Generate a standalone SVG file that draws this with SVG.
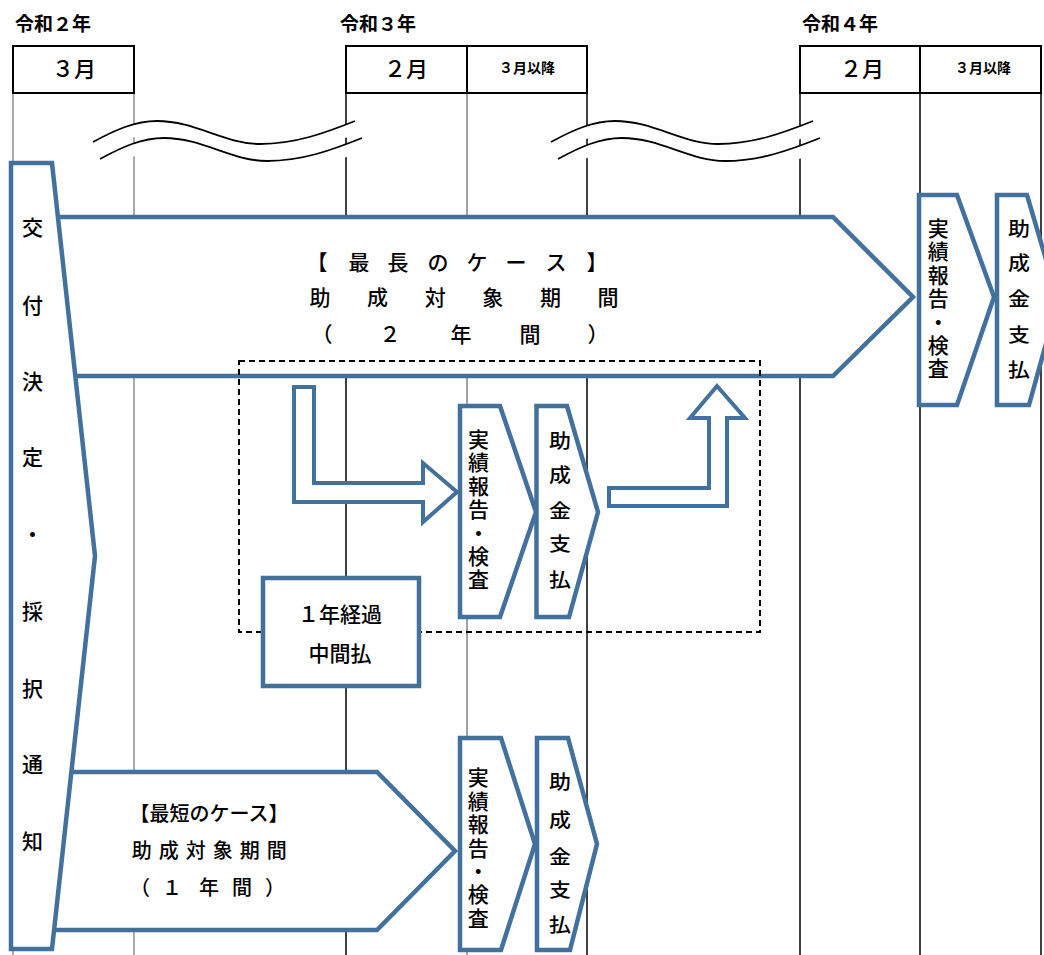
<svg xmlns="http://www.w3.org/2000/svg" xmlns:xlink="http://www.w3.org/1999/xlink" width="1044" height="955" viewBox="0 0 1044 955">
<style>
.vl{stroke:#000;stroke-width:1.5}
.vg{stroke:#8c8c8c;stroke-width:1.5}
.vt{stroke:#444;stroke-width:1}
.hdr{fill:#fff;stroke:#000;stroke-width:2}
.sh{fill:#fff;stroke:#41719C;stroke-width:4.5;stroke-linejoin:miter}
.ar{fill:#fff;stroke:#41719C;stroke-width:4;stroke-linejoin:miter}
.t{font-family:"Noto Sans CJK JP","Noto Sans CJK SC",sans-serif;fill:#000;dominant-baseline:central;text-anchor:middle;font-weight:500}
.sm{font-size:14px;font-weight:bold}
.tv{font-family:"Noto Sans CJK JP","Noto Sans CJK SC",sans-serif;fill:#000;writing-mode:vertical-rl;text-anchor:start;font-weight:500;font-size:21px;letter-spacing:2.4px}
.yr{font-family:"Noto Sans CJK JP","Noto Sans CJK SC",sans-serif;fill:#000;dominant-baseline:central;font-size:19px;font-weight:bold}
.band{fill:#fff;stroke:none}
.wl{fill:none;stroke:#000;stroke-width:1.8}
</style>
<defs>
<g id="wave">
<path class="band" d="M93,142 C115,130 135,121 157,121 C195,121 225,144 260,144 C295,144 325,133 355,121 L355,134 C325,146 295,157 260,157 C225,157 195,134 157,134 C135,134 115,143 93,155 Z"/>
<path class="wl" d="M93,142 C115,130 135,121 157,121 C195,121 225,144 260,144 C295,144 325,133 355,121"/>
<g transform="translate(7,17)">
<path class="band" d="M93,142 C115,130 135,121 157,121 C195,121 225,144 260,144 C295,144 325,133 355,121 L355,134 C325,146 295,157 260,157 C225,157 195,134 157,134 C135,134 115,143 93,155 Z"/>
<path class="wl" d="M93,142 C115,130 135,121 157,121 C195,121 225,144 260,144 C295,144 325,133 355,121"/>
</g>
</g>
</defs>

<g id="grid">
<line class="vg" x1="13" y1="93" x2="13" y2="955"/>
<line class="vg" x1="134" y1="93" x2="134" y2="955"/>
<line class="vl" x1="346" y1="93" x2="346" y2="955"/>
<line class="vt" x1="467" y1="93" x2="467" y2="955"/>
<line class="vl" x1="587" y1="93" x2="587" y2="955"/>
<line class="vl" x1="800" y1="93" x2="800" y2="955"/>
<line class="vl" x1="920" y1="93" x2="920" y2="955"/>
<line class="vl" x1="1041" y1="93" x2="1041" y2="955"/>
</g>

<g id="header">
<text class="yr" x="15" y="22">令和２年</text>
<text class="yr" x="340" y="22">令和３年</text>
<text class="yr" x="802" y="22">令和４年</text>
<rect class="hdr" x="13" y="46" width="121" height="47"/>
<rect class="hdr" x="346" y="46" width="241" height="47"/>
<line class="hdr" x1="467" y1="46" x2="467" y2="93"/>
<rect class="hdr" x="800" y="46" width="241" height="47"/>
<line class="hdr" x1="920" y1="46" x2="920" y2="93"/>
<text class="t" x="74" y="67" font-size="22">３月</text>
<text class="t" x="406" y="67" font-size="22">２月</text>
<text class="t sm" x="527" y="67">３月以降</text>
<text class="t" x="862" y="67" font-size="22">２月</text>
<text class="t sm" x="983" y="67">３月以降</text>
</g>

<g id="waves">
<use xlink:href="#wave"/>
<use xlink:href="#wave" transform="translate(458,0)"/>
</g>

<g id="long-case">
<polygon class="sh" points="40,217 833,217 913,297 833,376 40,376"/>
<text class="t" font-size="21" x="317 359 398 438 477 516 556 597" y="261">【最長のケース】</text>
<text class="t" font-size="21" x="320 377.6 435.2 492.8 550.4 608" y="296">助成対象期間</text>
<text class="t" font-size="21" x="322 390 461 530 598" y="333">（２年間）</text>
</g>

<g id="short-case">
<polygon class="sh" points="40,772 377,772 455,851 377,930 40,930"/>
<text class="t" font-size="20" x="209" y="812">【最短のケース】</text>
<text class="t" font-size="20" x="141.7 168.7 195.7 222.7 249.7 276.7" y="849">助成対象期間</text>
<text class="t" font-size="20" x="140 172 209 242 275" y="886">（１年間）</text>
</g>

<g id="decision">
<polygon class="sh" points="11,163 52,163 95,556 52,949 11,949"/>
<text class="t" font-size="21" x="32.5" y="226">交</text>
<text class="t" font-size="21" x="32.5" y="304">付</text>
<text class="t" font-size="21" x="32.5" y="380">決</text>
<text class="t" font-size="21" x="32.5" y="456">定</text>
<text class="t" font-size="21" x="32.5" y="533">・</text>
<text class="t" font-size="21" x="32.5" y="610">採</text>
<text class="t" font-size="21" x="32.5" y="687">択</text>
<text class="t" font-size="21" x="32.5" y="763">通</text>
<text class="t" font-size="21" x="32.5" y="840">知</text>
</g>

<g id="interim-scope">
<rect x="239" y="361" width="521" height="271" fill="none" stroke="#000" stroke-width="2" stroke-dasharray="6 4"/>
</g>

<g id="connectors">
<path class="ar" d="M294,387 L314,387 L314,483 L423,483 L423,463 L457,492 L423,522 L423,502 L294,502 Z"/>
<path class="ar" d="M609,488 L709,488 L709,418 L690,418 L717,386 L745,418 L727,418 L727,506 L609,506 Z"/>
</g>

<g id="mid-report">
<polygon class="sh" points="460,406 500,406 536,512 500,617 460,617"/>
<text class="tv" x="478.6" y="428.5">実績報告・検査</text>
</g>

<g id="mid-pay">
<polygon class="sh" points="536.5,406 567,406 598,512 569,617 536.5,617"/>
<text class="t" font-size="22" transform="translate(560 0) scale(1 0.9)"><tspan x="0" y="487.8">助</tspan><tspan x="0" y="525.6">成</tspan><tspan x="0" y="565.6">金</tspan><tspan x="0" y="603.3">支</tspan><tspan x="0" y="643.3">払</tspan></text>
</g>

<g id="interim">
<rect x="263" y="578" width="156" height="108" fill="#fff" stroke="#41719C" stroke-width="4.5"/>
<text class="t" font-size="21" x="340" y="613">１年経過</text>
<text class="t" font-size="21" x="340" y="652">中間払</text>
</g>

<g id="bottom-report">
<polygon class="sh" points="460,738 501,738 535,844 501,950 460,950"/>
<text class="tv" x="478.3" y="767">実績報告・検査</text>
</g>

<g id="bottom-pay">
<polygon class="sh" points="537,738 568,738 597,844 570,950 537,950"/>
<text class="t" font-size="22" transform="translate(560 0) scale(1 0.9)"><tspan x="0" y="866.7">助</tspan><tspan x="0" y="908.9">成</tspan><tspan x="0" y="950">金</tspan><tspan x="0" y="986.7">支</tspan><tspan x="0" y="1025.6">払</tspan></text>
</g>

<g id="final-report">
<polygon class="sh" points="919,195 957,195 994,297 957,405 919,405"/>
<text class="tv" x="938.3" y="217.5">実績報告・検査</text>
</g>

<g id="final-pay">
<polygon class="sh" points="997,195 1027,195 1058,300 1029,405 997,405"/>
<text class="t" font-size="22" transform="translate(1019 0) scale(1 0.9)"><tspan x="0" y="253.3">助</tspan><tspan x="0" y="290.8">成</tspan><tspan x="0" y="331.1">金</tspan><tspan x="0" y="370">支</tspan><tspan x="0" y="408.9">払</tspan></text>
</g>
</svg>
